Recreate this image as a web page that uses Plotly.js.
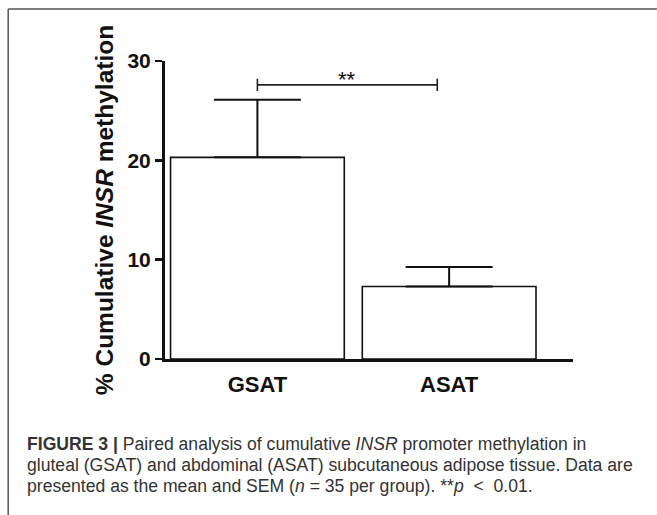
<!DOCTYPE html>
<html>
<head>
<meta charset="utf-8">
<script src="https://cdn.plot.ly/plotly-3.0.1.min.js"></script>
<style>
html,body{margin:0;padding:0;background:#fff;}
#chart{width:657px;height:515px;}
</style>
</head>
<body>
<div id="chart"></div>
<script>
// ---- data ----
const categories = ["GSAT", "ASAT"];
const means = [20.3, 7.3];
const sem = [5.8, 1.95];
const sigLabel = "**";
const sigPairIdx = [0, 1];
const yTickVals = [0, 10, 20, 30];
const yTitle = "% Cumulative <i>INSR</i> methylation";
const captionLines = [
  "<b>FIGURE 3 |</b> Paired analysis of cumulative <i>INSR</i> promoter methylation in",
  "gluteal (GSAT) and abdominal (ASAT) subcutaneous adipose tissue. Data are",
  "presented as the mean and SEM (<i>n</i> = 35 per group). **<i>p</i>  <  0.01."
];

// ---- layout geometry (pixels) ----
const W = 657, H = 515;
const M = {l: 164.5, r: 84, t: 61, b: 156};
const PW = W - M.l - M.r, PH = H - M.t - M.b;
const px2x = p => (p - M.l) / PW;
const px2y = p => (H - M.b - p) / PH;

const xIdx = categories.map((c, i) => i);

const barTrace = {
  type: "bar",
  x: xIdx,
  y: means,
  width: 0.906,
  marker: {color: "#ffffff", line: {color: "#111", width: 1.6}},
  error_y: {
    type: "data", symmetric: false, array: sem, arrayminus: sem.map(() => 0),
    color: "#111", thickness: 2, width: 43.5
  },
  hoverinfo: "none"
};

// significance bracket above the higher error bar
const topVal = Math.max(...means.map((m, i) => m + sem[i]));
const brY = topVal + 1.5;
const brTick = 0.62;
const brX0 = sigPairIdx[0];
const brX1 = sigPairIdx[1] - 0.062;

const shapes = [
  {type: "line", xref: "x", yref: "y", x0: brX0, x1: brX1, y0: brY, y1: brY, line: {color: "#222", width: 1.6}},
  {type: "line", xref: "x", yref: "y", x0: brX0, x1: brX0, y0: brY - brTick, y1: brY + brTick, line: {color: "#222", width: 1.6}},
  {type: "line", xref: "x", yref: "y", x0: brX1, x1: brX1, y0: brY - brTick, y1: brY + brTick, line: {color: "#222", width: 1.6}},
  // figure frame (top and left)
  {type: "line", xref: "paper", yref: "paper", x0: px2x(7.5), x1: px2x(657), y0: px2y(9), y1: px2y(9), line: {color: "#555", width: 1.5}},
  {type: "line", xref: "paper", yref: "paper", x0: px2x(7.5), x1: px2x(7.5), y0: px2y(9), y1: px2y(515), line: {color: "#555", width: 1.5}}
];

const capFont = {family: "Liberation Sans, Arial, sans-serif", size: 17.6, color: "#333"};
const capY = [443.5, 464.5, 485.5];

const annotations = [
  {xref: "x", yref: "y", x: (brX0 + brX1) / 2, y: brY + 2.0, text: sigLabel, showarrow: false,
   xanchor: "center", yanchor: "top", font: {family: "Liberation Sans, Arial, sans-serif", size: 22, color: "#111"}}
].concat(captionLines.map((t, i) => ({
  xref: "paper", yref: "paper", x: px2x(24), y: px2y(capY[i]), xanchor: "left", yanchor: "middle", align: "left",
  showarrow: false, text: t, font: capFont
})));

const layout = {
  width: W, height: H,
  margin: M,
  paper_bgcolor: "#fff", plot_bgcolor: "#fff",
  showlegend: false,
  xaxis: {
    range: [-0.482, 1.646],
    tickvals: xIdx, ticktext: categories,
    showline: true, linecolor: "#111", linewidth: 3,
    showgrid: false, zeroline: false, ticks: "",
    tickfont: {family: "Liberation Sans, Arial, sans-serif", size: 22, color: "#111", weight: "bold"},
    ticklabelstandoff: 4
  },
  yaxis: {
    range: [0, 30],
    tickvals: yTickVals,
    showline: true, linecolor: "#111", linewidth: 3,
    showgrid: false, zeroline: false,
    ticks: "outside", ticklen: 7, tickwidth: 2.5, tickcolor: "#111",
    tickfont: {family: "Liberation Sans, Arial, sans-serif", size: 21, color: "#111", weight: "bold"},
    title: {text: yTitle, standoff: 7,
      font: {family: "Liberation Sans, Arial, sans-serif", size: 24.5, color: "#111", weight: "bold"}}
  },
  shapes: shapes,
  annotations: annotations
};

Plotly.newPlot("chart", [barTrace], layout, {staticPlot: true, displayModeBar: false});
</script>
</body>
</html>
